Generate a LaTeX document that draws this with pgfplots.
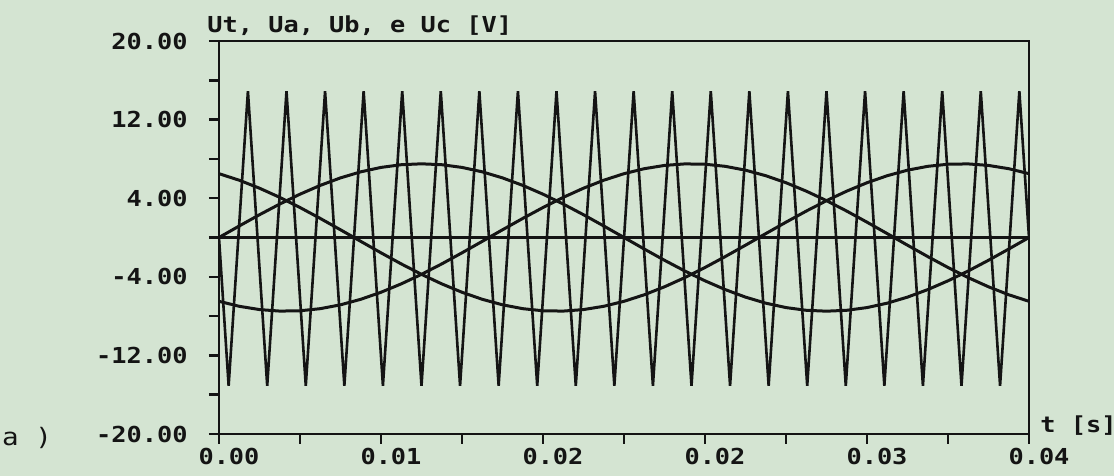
\documentclass[border=0pt]{standalone}
\usepackage{pgfplots}
\usepackage{pgfplotstable}
\pgfplotsset{compat=1.18}
\usepackage{fontspec}
\newfontfamily\pcfont{DejaVu Sans Mono}[FakeStretch=1.15]
\definecolor{paper}{RGB}{212,228,210}
\definecolor{ink}{RGB}{20,20,20}

\pgfplotstableread{
t ua ub uc
0.000 0.000 -6.495 6.495
0.001 1.173 -7.002 5.829
0.002 2.318 -7.336 5.018
0.003 3.405 -7.490 4.085
0.004 4.408 -7.459 3.051
0.005 5.303 -7.244 1.941
0.006 6.068 -6.852 0.784
0.007 6.683 -6.290 -0.393
0.008 7.133 -5.574 -1.559
0.009 7.408 -4.720 -2.688
0.010 7.500 -3.750 -3.750
0.011 7.408 -2.688 -4.720
0.012 7.133 -1.559 -5.574
0.013 6.683 -0.393 -6.290
0.014 6.068 0.784 -6.852
0.015 5.303 1.941 -7.244
0.016 4.408 3.051 -7.459
0.017 3.405 4.085 -7.490
0.018 2.318 5.018 -7.336
0.019 1.173 5.829 -7.002
0.020 0.000 6.495 -6.495
0.021 -1.173 7.002 -5.829
0.022 -2.318 7.336 -5.018
0.023 -3.405 7.490 -4.085
0.024 -4.408 7.459 -3.051
0.025 -5.303 7.244 -1.941
0.026 -6.068 6.852 -0.784
0.027 -6.683 6.290 0.393
0.028 -7.133 5.574 1.559
0.029 -7.408 4.720 2.688
0.030 -7.500 3.750 3.750
0.031 -7.408 2.688 4.720
0.032 -7.133 1.559 5.574
0.033 -6.683 0.393 6.290
0.034 -6.068 -0.784 6.852
0.035 -5.303 -1.941 7.244
0.036 -4.408 -3.051 7.459
0.037 -3.405 -4.085 7.490
0.038 -2.318 -5.018 7.336
0.039 -1.173 -5.829 7.002
0.040 0.000 -6.495 6.495
}\sines

\begin{document}
\begin{tikzpicture}
\path[fill=paper, use as bounding box] (-109.5pt,-21pt) rectangle (447.5pt,217pt);
\begin{axis}[
  name=ax,
  at={(0,0)}, anchor=south west,
  scale only axis, width=405pt, height=196.5pt,
  xmin=0, xmax=0.04, ymin=-20, ymax=20,
  axis line style={line width=1.3pt, ink},
  tick style={line width=1.2pt, ink},
  tick align=outside, major tick length=5pt, minor tick length=5pt,
  xtick pos=left, ytick pos=left,
  xtick={0,0.008,0.016,0.024,0.032,0.04},
  xticklabels={0.00,0.01,0.02,0.02,0.03,0.04},
  minor xtick={0.004,0.012,0.02,0.028,0.036},
  ytick={-20,-12,-4,4,12,20},
  yticklabels={-20.00,-12.00,-4.00,4.00,12.00,20.00},
  minor ytick={-16,-8,0,8,16},
  scaled x ticks=false,
  ticklabel style={font=\pcfont\bfseries\fontsize{11}{13}\selectfont, text=ink},
  yticklabel style={anchor=east, inner sep=0pt, xshift=-10.5pt},
  xticklabel style={anchor=north, inner sep=0pt, xshift=5pt, yshift=-2pt},
]
\addplot[ink, line width=1.4pt] coordinates {(0,0) (0.04,0)};
\addplot[ink, line width=1.3pt] coordinates {
(0,0)
(0.00047619,-15.1)(0.00142857,14.9)
(0.00238095,-15.1)(0.00333333,14.9)
(0.00428571,-15.1)(0.00523810,14.9)
(0.00619048,-15.1)(0.00714286,14.9)
(0.00809524,-15.1)(0.00904762,14.9)
(0.01000000,-15.1)(0.01095238,14.9)
(0.01190476,-15.1)(0.01285714,14.9)
(0.01380952,-15.1)(0.01476190,14.9)
(0.01571429,-15.1)(0.01666667,14.9)
(0.01761905,-15.1)(0.01857143,14.9)
(0.01952381,-15.1)(0.02047619,14.9)
(0.02142857,-15.1)(0.02238095,14.9)
(0.02333333,-15.1)(0.02428571,14.9)
(0.02523810,-15.1)(0.02619048,14.9)
(0.02714286,-15.1)(0.02809524,14.9)
(0.02904762,-15.1)(0.03000000,14.9)
(0.03095238,-15.1)(0.03190476,14.9)
(0.03285714,-15.1)(0.03380952,14.9)
(0.03476190,-15.1)(0.03571429,14.9)
(0.03666667,-15.1)(0.03761905,14.9)
(0.03857143,-15.1)(0.03952381,14.9)
(0.04,0)
};
\addplot[ink, line width=1.5pt] table[x=t, y=ua] {\sines};
\addplot[ink, line width=1.5pt] table[x=t, y=ub] {\sines};
\addplot[ink, line width=1.5pt] table[x=t, y=uc] {\sines};
\end{axis}
\node[anchor=base west, inner sep=0pt, font=\pcfont\bfseries\fontsize{11}{13}\selectfont, text=ink]
  at ([xshift=-6pt, yshift=4pt]ax.north west) {Ut, Ua, Ub, e Uc [V]};
\node[anchor=west, inner sep=0pt, font=\pcfont\bfseries\fontsize{11}{13}\selectfont, text=ink]
  at ([xshift=5.5pt, yshift=4pt]ax.south east) {t [s]};
\node[anchor=center, inner sep=0pt, font=\pcfont\fontsize{12}{14}\selectfont, text=ink]
  at ([xshift=-96pt, yshift=-2pt]ax.south west) {a )};
\end{tikzpicture}
\end{document}
